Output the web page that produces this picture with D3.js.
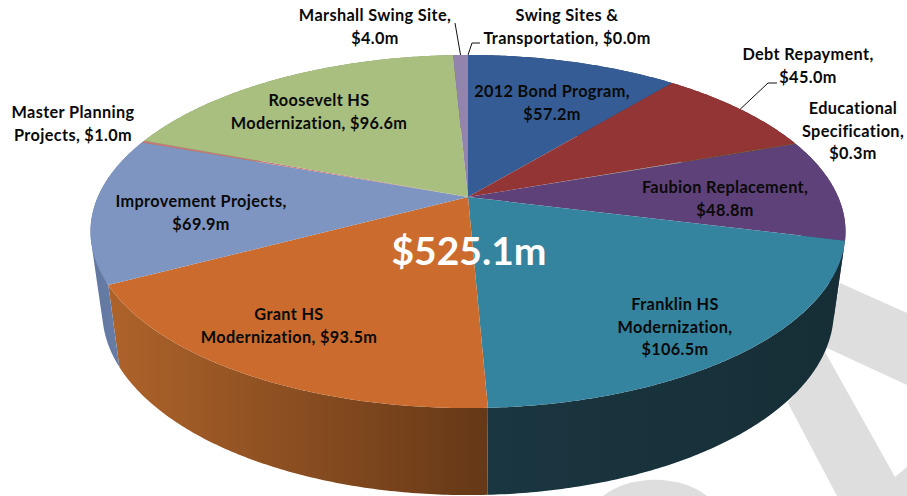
<!DOCTYPE html>
<html><head><meta charset="utf-8">
<script src="https://cdn.jsdelivr.net/npm/d3@7/dist/d3.min.js"></script>
<style>html,body{margin:0;padding:0;background:#fff}svg{display:block}</style>
</head><body><div id="c"></div>
<script>
const categories=["2012 Bond Program","Debt Repayment","Educational Specification","Faubion Replacement","Franklin HS Modernization","Grant HS Modernization","Improvement Projects","Master Planning Projects","Roosevelt HS Modernization","Marshall Swing Site","Swing Sites & Transportation"];
const values=[57.2,45.0,0.3,48.8,106.5,93.5,69.9,1.0,96.6,4.0,0.0];
const topColors=["#355c94","#943535","#7d7a45","#5e4179","#35849f","#cb6c2e","#7f95c1","#c5797a","#a8bf7f","#9384ad","#9384ad"];
const wallLeft=["#274468","#6e2727","#5c5a33","#452f59","#1a3640","#ae632a","#62779f","#935a5a","#7d8e5e","#6d6280","#6d6280"];
const wallRight=["#274468","#6e2727","#5c5a33","#452f59","#162e36","#653817","#6f85ae","#935a5a","#7d8e5e","#6d6280","#6d6280"];
const totalLabel="$525.1m";
const labelLines=[["2012 Bond Program,","$57.2m"],["Debt Repayment,","$45.0m"],["Educational","Specification,","$0.3m"],["Faubion Replacement,","$48.8m"],["Franklin HS","Modernization,","$106.5m"],["Grant HS","Modernization, $93.5m"],["Improvement Projects,","$69.9m"],["Master Planning","Projects, $1.0m"],["Roosevelt HS","Modernization, $96.6m"],["Marshall Swing Site,","$4.0m"],["Swing Sites &","Transportation, $0.0m"]];
const labelCenters=[[552,103],[808,66],[853,131],[725,199],[675,327],[289,326],[201,213],[73,124],[319,112],[375,27],[567,27]];

const W=907,H=496;
const svg=d3.select("#c").append("svg").attr("width",W).attr("height",H).attr("viewBox",[0,0,W,H]);
const defs=svg.append("defs");

// Background watermark
const wm=svg.append("g").attr("fill","#dedede");
wm.append("path").attr("d","M840,283L907,313L907,385L827,348Z");
wm.append("path").attr("d","M825,352L895,477L907,467L907,496L837,496L788,403Z");
wm.append("path").attr("d","M603,496A66,42 0 0 1 707,496Z");

// Perspective mapping of the pie disc
const cx=468,cy=197,A=370.2,B=169.8,K=0.1955;
const depthX=0.969,depthY=1.04,depthT=70.7;
function topPt(a){const u=Math.sin(a),v=-Math.cos(a),w=1-K*v;return [cx+A*u/w,cy+B*v/w];}
function bottomPt(a){const p=topPt(a);return [cx+(p[0]-cx)*depthX,p[1]*depthY+depthT];}
const line=d3.line();
function arcPts(a0,a1,fn){const n=Math.max(2,Math.ceil((a1-a0)/0.01));return d3.range(n+1).map(i=>fn(a0+(a1-a0)*i/n));}

const arcs=d3.pie().sort(null).value(d=>d)(values);

// Outer walls: one path built from thin quads swept between the two rims
const walls=svg.append("g");
arcs.forEach((d,i)=>{
  if(d.endAngle-d.startAngle<=0)return;
  const t=arcPts(d.startAngle,d.endAngle,topPt),b=arcPts(d.startAngle,d.endAngle,bottomPt);
  const xs=t.concat(b).map(p=>p[0]);
  const id="wg"+i;
  const g=defs.append("linearGradient").attr("id",id).attr("gradientUnits","userSpaceOnUse")
    .attr("x1",d3.min(xs)).attr("x2",d3.max(xs)).attr("y1",0).attr("y2",0);
  g.append("stop").attr("offset",0).attr("stop-color",wallLeft[i]);
  g.append("stop").attr("offset",1).attr("stop-color",wallRight[i]);
  let path="";
  for(let k=0;k<t.length-1;k++){
    let q=[t[k],t[k+1],b[k+1],b[k]];
    if(d3.polygonArea(q)<0)q=q.reverse();
    path+=line(q)+"Z";
  }
  walls.append("path").attr("d",path).attr("fill",`url(#${id})`);
});

// Top faces
const faces=svg.append("g");
arcs.forEach((d,i)=>{
  if(d.endAngle-d.startAngle<=0)return;
  const pts=[[cx,cy]].concat(arcPts(d.startAngle,d.endAngle,topPt));
  faces.append("path").attr("d",line(pts)+"Z").attr("fill",topColors[i]);
});

// Leader lines, anchored on slice mid-angles
function mid(i){return topPt((arcs[i].startAngle+arcs[i].endAngle)/2);}
const leaders=svg.append("g").attr("fill","none").attr("stroke","#111").attr("stroke-width",1);
leaders.append("path").attr("d",line([mid(9),[455,23]]));
leaders.append("path").attr("d",line([mid(10),[472,43],[480,43]]));
leaders.append("path").attr("d",line([mid(1),[768,83],[777,83]]));

// Labels
const lh=22.8;
const labels=svg.append("g").attr("font-family","Lato, 'Open Sans', sans-serif").attr("font-weight",700)
  .attr("font-size",16.3).attr("letter-spacing",0.35).attr("fill","#0a0a0a").attr("text-anchor","middle");
labelLines.forEach((ls,i)=>{
  const [x,y]=labelCenters[i];
  const t=labels.append("text").attr("transform",`translate(${x},${y-(ls.length-1)*lh/2})`);
  ls.forEach((s,j)=>t.append("tspan").attr("x",0).attr("y",j*lh).attr("dy","0.35em").text(s));
});
svg.append("text").attr("x",469).attr("y",265).attr("text-anchor","middle")
  .attr("font-family","Lato, 'Open Sans', sans-serif").attr("font-weight",700).attr("font-size",39).attr("fill","#fff").text(totalLabel);
</script></body></html>
